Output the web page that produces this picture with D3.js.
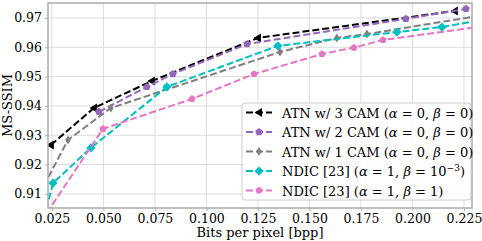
<!DOCTYPE html>
<html>
<head>
<meta charset="utf-8">
<script src="https://cdn.jsdelivr.net/npm/d3@7"></script>
<style>
  body { margin: 0; background: #fff; }
  svg { display: block; font-family: "DejaVu Serif", serif; }
</style>
</head>
<body>
<div id="chart"></div>
<script>
// data
const xTicks = [0.025, 0.05, 0.075, 0.1, 0.125, 0.15, 0.175, 0.2, 0.225];
const yTicks = [0.91, 0.92, 0.93, 0.94, 0.95, 0.96, 0.97];

const atn3Bpp = [0.0245, 0.0454, 0.0735, 0.125, 0.2206];
const atn3Ssim = [0.9267, 0.9393, 0.9485, 0.9632, 0.9724];

const atn2Bpp = [0.0478, 0.0711, 0.0837, 0.1197, 0.1968, 0.226];
const atn2Ssim = [0.938, 0.9465, 0.9509, 0.9611, 0.9697, 0.9731];

const atn1Bpp = [0.021, 0.0328, 0.0536, 0.1357, 0.1633, 0.1779, 0.232];
const atn1Ssim = [0.9127, 0.9284, 0.9393, 0.9584, 0.9632, 0.9645, 0.9707];

const ndicABpp = [0.021, 0.0255, 0.0439, 0.0808, 0.1347, 0.1925, 0.2143, 0.235];
const ndicASsim = [0.9015, 0.9137, 0.9257, 0.9465, 0.9605, 0.9652, 0.9669, 0.9695];

const ndicBBpp = [0.0225, 0.0498, 0.093, 0.1231, 0.1561, 0.1716, 0.1857, 0.24];
const ndicBSsim = [0.9035, 0.9322, 0.9424, 0.9509, 0.9577, 0.9599, 0.9625, 0.9677];

const W = 482, H = 241;
const m = { left: 48, right: 10, top: 3, bottom: 33 };

const svg = d3.select("#chart").append("svg")
  .attr("width", W)
  .attr("height", H);

const x = d3.scaleLinear().domain([0.0231, 0.2289]).range([m.left, W - m.right]);
const y = d3.scaleLinear().domain([0.9052, 0.9751]).range([H - m.bottom, m.top]);

// custom marker shapes
function polygon(pts) {
  return { draw(ctx) { pts.forEach((p, i) => i ? ctx.lineTo(p[0], p[1]) : ctx.moveTo(p[0], p[1])); ctx.closePath(); } };
}
function ngon(n, r, rot) {
  return d3.range(n).map(i => {
    const a = rot + i * 2 * Math.PI / n;
    return [r * Math.cos(a), r * Math.sin(a)];
  });
}
const triLeft = polygon([[-4.5, 0], [3, -4.5], [3, 4.5]]);
const pentagon = r => polygon(ngon(5, r, -Math.PI / 2));
const thinDiamond = polygon([[0, -4.5], [2.8, 0], [0, 4.5], [-2.8, 0]]);
const diamond = polygon([[0, -4.6], [4.6, 0], [0, 4.6], [-4.6, 0]]);

const series = [
  { name: "ATN w/ 3 CAM", a: "0", b: "0", bpp: atn3Bpp, ssim: atn3Ssim, color: "#000000", shape: triLeft },
  { name: "ATN w/ 2 CAM", a: "0", b: "0", bpp: atn2Bpp, ssim: atn2Ssim, color: "#9467bd", shape: pentagon(4) },
  { name: "ATN w/ 1 CAM", a: "0", b: "0", bpp: atn1Bpp, ssim: atn1Ssim, color: "#7f7f7f", shape: thinDiamond },
  { name: "NDIC [23]", a: "1", b: "10", exp: "−3", bpp: ndicABpp, ssim: ndicASsim, color: "#00bfbf", shape: diamond },
  { name: "NDIC [23]", a: "1", b: "1", bpp: ndicBBpp, ssim: ndicBSsim, color: "#e377c2", shape: pentagon(3.8) }
];

// grid
svg.append("g").selectAll("line")
  .data(xTicks).enter().append("line")
  .attr("x1", d => x(d)).attr("x2", d => x(d))
  .attr("y1", m.top).attr("y2", H - m.bottom)
  .attr("stroke", "#dcdcdc").attr("stroke-width", 1);
svg.append("g").selectAll("line")
  .data(yTicks).enter().append("line")
  .attr("x1", m.left).attr("x2", W - m.right)
  .attr("y1", d => y(d)).attr("y2", d => y(d))
  .attr("stroke", "#dcdcdc").attr("stroke-width", 1);

svg.append("defs").append("clipPath").attr("id", "clip")
  .append("rect")
  .attr("x", m.left).attr("y", m.top)
  .attr("width", W - m.left - m.right).attr("height", H - m.top - m.bottom);

const plot = svg.append("g").attr("clip-path", "url(#clip)");
const line = d3.line().x(d => x(d[0])).y(d => y(d[1]));

series.forEach(s => {
  const pts = s.bpp.map((b, i) => [b, s.ssim[i]]);
  plot.append("path")
    .datum(pts)
    .attr("d", line)
    .attr("fill", "none")
    .attr("stroke", s.color)
    .attr("stroke-width", 2)
    .attr("stroke-dasharray", "7,3");
  plot.selectAll(null)
    .data(pts).enter().append("path")
    .attr("transform", d => `translate(${x(d[0])},${y(d[1])})`)
    .attr("d", d3.symbol().type(s.shape))
    .attr("fill", s.color);
});

// axes
const xAxis = svg.append("g")
  .attr("transform", `translate(0,${H - m.bottom})`)
  .call(d3.axisBottom(x).tickValues(xTicks).tickFormat(d3.format(".3f")).tickSize(3).tickPadding(3));
const yAxis = svg.append("g")
  .attr("transform", `translate(${m.left},0)`)
  .call(d3.axisLeft(y).tickValues(yTicks).tickFormat(d3.format(".2f")).tickSize(3).tickPadding(3));
[xAxis, yAxis].forEach(a => {
  a.select(".domain").remove();
  a.selectAll(".tick line").attr("stroke", "#aaaaaa");
  a.selectAll(".tick text").attr("fill", "#000").style("font-family", "DejaVu Serif").style("font-size", "12.5px");
});

svg.append("rect")
  .attr("x", m.left).attr("y", m.top)
  .attr("width", W - m.left - m.right).attr("height", H - m.top - m.bottom)
  .attr("fill", "none").attr("stroke", "#aaaaaa").attr("stroke-width", 1.5);

svg.append("text")
  .attr("x", (m.left + W - m.right) / 2).attr("y", H - 4)
  .attr("text-anchor", "middle")
  .style("font-size", "13px")
  .text("Bits per pixel [bpp]");
svg.append("text")
  .attr("transform", `translate(12,${(m.top + H - m.bottom) / 2}) rotate(-90)`)
  .attr("text-anchor", "middle")
  .style("font-size", "13px")
  .text("MS-SSIM");

// legend
const lg = svg.append("g").attr("transform", "translate(242,103)");
lg.append("rect")
  .attr("width", 229).attr("height", 97).attr("rx", 3)
  .attr("fill", "#fff").attr("fill-opacity", 0.85)
  .attr("stroke", "#cccccc");
series.forEach((s, i) => {
  const row = lg.append("g").attr("transform", `translate(0,${9.5 + i * 19.5})`);
  row.append("line")
    .attr("x1", 4).attr("x2", 30).attr("y1", 0).attr("y2", 0)
    .attr("stroke", s.color).attr("stroke-width", 2).attr("stroke-dasharray", "7,3");
  row.append("path")
    .attr("transform", "translate(17,0)")
    .attr("d", d3.symbol().type(s.shape))
    .attr("fill", s.color);
  const t = row.append("text").attr("x", 40).attr("y", 5).style("font-size", "13px");
  t.append("tspan").text(s.name + " (");
  t.append("tspan").style("font-style", "italic").text("α");
  t.append("tspan").text(" = " + s.a + ", ");
  t.append("tspan").style("font-style", "italic").text("β");
  t.append("tspan").text(" = " + s.b);
  if (s.exp) t.append("tspan").attr("dy", -5).style("font-size", "9px").text(s.exp);
  t.append("tspan").attr("dy", s.exp ? 5 : 0).text(")");
});
</script>
</body>
</html>
